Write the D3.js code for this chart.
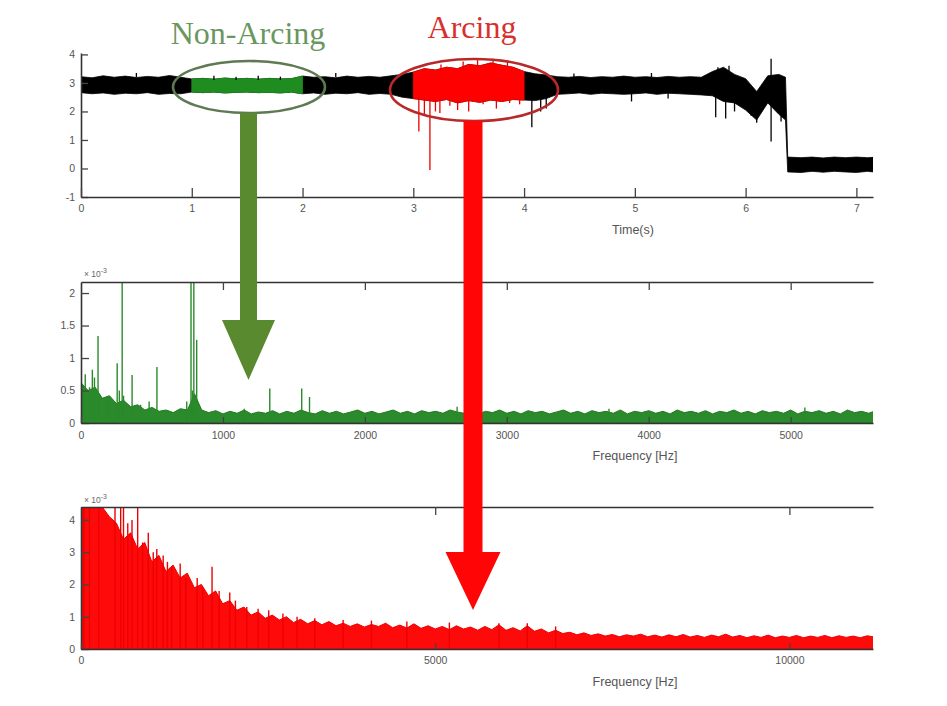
<!DOCTYPE html>
<html><head><meta charset="utf-8">
<script src="https://cdn.jsdelivr.net/npm/d3@7"></script>
<style>body{margin:0;background:#fff}svg{display:block}</style>
</head><body><svg id="c" width="947" height="706"></svg>
<script>
// ---------- Top panel: voltage vs time ----------
const timeTicks = [0,1,2,3,4,5,6,7];
const voltTicks = [-1,0,1,2,3,4];
const sigTime = [0,0.1,0.2,0.3,0.4,0.5,0.6,0.7,0.8,0.9,
  1.0,1.1,1.2,1.3,1.4,1.5,1.6,1.7,1.8,1.9,
  2.0,2.1,2.2,2.3,2.4,2.5,2.6,2.7,2.8,2.9,
  3.0,3.1,3.2,3.3,3.4,3.5,3.6,3.7,3.8,3.9,
  4.0,4.1,4.2,4.3,4.4,4.5,4.6,4.7,4.8,4.9,
  5.0,5.1,5.2,5.3,5.4,5.5,5.6,5.7,5.8,5.9,
  6.0,6.1,6.2,6.3,6.36,6.38,6.5,6.6,6.7,6.8,6.9,7.0,7.1,7.15];
const sigHi = [3.22,3.18,3.25,3.2,3.24,3.19,3.23,3.2,3.26,3.2,
  3.14,3.16,3.13,3.17,3.14,3.16,3.13,3.16,3.14,3.15,
  3.24,3.2,3.22,3.18,3.24,3.2,3.23,3.2,3.25,3.3,
  3.38,3.5,3.45,3.55,3.5,3.65,3.6,3.7,3.62,3.55,
  3.4,3.32,3.28,3.22,3.2,3.23,3.19,3.22,3.2,3.24,
  3.2,3.22,3.19,3.23,3.2,3.22,3.2,3.4,3.55,3.3,
  3.15,2.7,3.25,3.3,3.2,0.4,0.38,0.4,0.37,0.4,0.38,0.4,0.38,0.39];
const sigLo = [2.66,2.62,2.65,2.6,2.64,2.62,2.66,2.6,2.63,2.62,
  2.68,2.66,2.68,2.65,2.67,2.68,2.66,2.67,2.65,2.68,
  2.62,2.65,2.6,2.64,2.62,2.66,2.6,2.63,2.6,2.5,
  2.45,2.4,2.35,2.42,2.3,2.38,2.32,2.4,2.35,2.42,
  2.4,2.38,2.45,2.6,2.62,2.65,2.6,2.64,2.62,2.6,
  2.62,2.65,2.6,2.64,2.62,2.6,2.58,2.55,2.35,2.3,
  2.05,1.7,2.3,1.9,1.7,-0.12,-0.14,-0.1,-0.13,-0.1,-0.12,-0.14,-0.1,-0.12];
const greenRange = [1.0, 2.0];
const redRange = [3.0, 4.0];
// spikes: [time, low value, high value]
const blackSpikes = [[0.5,3.2,3.35],[1.2,3.1,3.25],[1.4,3.1,3.22],[1.6,3.1,3.25],[1.8,3.1,3.22],
  [2.3,3.2,3.35],[4.07,1.45,2.5],[4.15,2.0,2.5],[4.2,2.1,2.6],[4.45,3.2,3.33],[4.97,2.35,2.7],
  [5.15,3.2,3.35],[5.3,2.45,2.7],[5.73,1.8,2.6],[5.75,3.3,3.55],[5.82,1.75,2.5],[5.85,3.4,3.6],
  [5.9,2.0,2.4],[6.05,1.85,2.2],[6.1,1.6,1.8],[6.23,0.95,3.85],[6.32,1.65,2.0]];
const redSpikes = [[3.05,1.3,2.5],[3.1,1.9,2.5],[3.15,-0.05,2.4],[3.2,2.0,2.4],[3.24,1.95,2.4],
  [3.33,2.2,2.4],[3.4,2.05,2.4],[3.5,2.0,2.4],[3.63,2.25,2.4],[3.75,2.1,2.4],[3.87,2.3,2.4],
  [3.96,2.25,2.4],[3.25,3.4,3.65],[3.45,3.5,3.75],[3.58,3.55,3.8],[3.72,3.6,3.85],[3.85,3.55,3.75]];

// ---------- Middle panel: non-arcing spectrum (x 10^-3) ----------
const gFreqTicks = [0,1000,2000,3000,4000,5000];
const gAmpTicks = [0,0.5,1,1.5,2];
const gStep = 50;
const gFloor = [0.62,0.5,0.55,0.38,0.42,0.3,0.35,0.25,0.28,0.2,0.24,0.18,0.2,0.16,0.22,0.2,0.45,0.2,0.16,0.19,
  0.14,0.18,0.15,0.2,0.14,0.17,0.15,0.19,0.14,0.18,0.15,0.2,0.16,0.14,0.19,0.15,0.18,0.14,0.17,0.2,
  0.15,0.18,0.14,0.17,0.2,0.15,0.18,0.14,0.19,0.16,0.18,0.15,0.2,0.17,0.15,0.19,0.14,0.18,0.16,0.2,
  0.15,0.18,0.14,0.19,0.16,0.18,0.14,0.17,0.2,0.15,0.18,0.14,0.19,0.16,0.18,0.15,0.2,0.14,0.18,0.16,
  0.19,0.15,0.18,0.14,0.2,0.16,0.18,0.15,0.19,0.14,0.18,0.16,0.2,0.15,0.18,0.14,0.19,0.16,0.18,0.15,
  0.2,0.14,0.18,0.16,0.19,0.15,0.18,0.14,0.2,0.16,0.18,0.15,0.19];
const gPeaks = [[30,0.75],[60,0.55],[80,0.82],[95,0.7],[120,1.34],[180,0.35],[200,0.4],[255,0.92],
  [270,0.5],[290,2.2],[300,0.42],[360,0.74],[420,0.28],[480,0.33],[535,0.86],[745,0.33],
  [775,2.2],[785,0.5],[795,2.2],[815,1.28],[1150,0.22],[1330,0.53],[1555,0.53],[1610,0.4],
  [2650,0.25],[3720,0.22],[5100,0.24]];

// ---------- Bottom panel: arcing spectrum (x 10^-3) ----------
const rFreqTicks = [0,5000,10000];
const rAmpTicks = [0,1,2,3,4];
const rStep = 100;
const rFloor = [4.4,4.4,4.4,4.4,4.1,3.9,3.4,3.6,3.1,3.3,2.7,2.9,2.4,2.6,2.2,2.35,1.9,2.0,1.65,1.8,
  1.4,1.5,1.2,1.3,1.05,1.15,0.95,1.05,0.9,1.0,0.82,0.92,0.78,0.88,0.75,0.85,0.72,0.8,0.7,0.78,
  0.68,0.76,0.7,0.8,0.66,0.74,0.65,0.78,0.64,0.72,0.62,0.7,0.6,0.72,0.62,0.68,0.58,0.7,0.6,0.75,
  0.58,0.66,0.56,0.72,0.55,0.62,0.5,0.58,0.48,0.52,0.44,0.5,0.42,0.47,0.4,0.45,0.38,0.44,0.4,0.46,
  0.38,0.43,0.37,0.44,0.38,0.45,0.37,0.42,0.36,0.43,0.38,0.46,0.37,0.42,0.35,0.41,0.36,0.43,0.35,0.4,
  0.36,0.42,0.35,0.4,0.36,0.42,0.35,0.41,0.36,0.4,0.35,0.41,0.37];
const rPeaks = [[40,4.4],[120,4.4],[250,4.4],[480,4.4],[560,4.4],[600,4.4],[660,3.9],[720,4.0],
  [800,4.4],[870,3.3],[950,3.6],[1020,3.0],[1070,3.1],[1160,2.9],[1220,2.7],[1280,2.55],[1400,2.65],
  [1480,2.2],[1640,2.2],[1720,1.9],[1850,2.55],[1950,1.8],[2100,1.75],[2180,1.5],[2340,1.3],
  [2500,1.25],[2650,1.2],[2850,1.1],[3050,1.0],[3300,0.95],[3700,0.9],[4100,0.88],[4600,0.85],
  [5200,0.82],[5900,0.8],[6300,0.8],[6700,0.7]];

// ---------- drawing ----------
const svg = d3.select("#c");
svg.append("rect").attr("width",947).attr("height",706).attr("fill","#fff");
const defs = svg.append("defs");
function clip(id,x0,y0,x1,y1){defs.append("clipPath").attr("id",id).append("rect")
  .attr("x",x0).attr("y",y0).attr("width",x1-x0).attr("height",y1-y0);}
const L = 81, R = 873;
const tickFont = "'Liberation Sans', Arial, sans-serif";
const plain = d => String(d);

function styleAxis(g){
  g.selectAll(".domain").attr("stroke","#333").attr("stroke-width",1.6);
  g.selectAll(".tick line").attr("stroke","#444").attr("stroke-width",1.3);
  g.selectAll(".tick text").attr("fill","#555").style("font-family",tickFont).style("font-size","10.5px");
}

// Top panel
const xT = d3.scaleLinear().domain([0,7.15]).range([L,R]);
const yT = d3.scaleLinear().domain([-1,4.05]).range([197,53]);
clip("cT",L,30,R,197);
const gT = svg.append("g").attr("clip-path","url(#cT)");
const pts = sigTime.map((t,i)=>({t,lo:sigLo[i],hi:sigHi[i]}));
const areaT = d3.area().x(d=>xT(d.t)).y0(d=>yT(d.lo)).y1(d=>yT(d.hi));
function band(data,col){gT.append("path").datum(data).attr("d",areaT).attr("fill",col)
  .attr("stroke",col).attr("stroke-width",0.8).attr("stroke-linejoin","round");}
band(pts,"#000");
band(pts.filter(d=>d.t>=greenRange[0]-1e-9&&d.t<=greenRange[1]+1e-9),"#1f8c1f");
band(pts.filter(d=>d.t>=redRange[0]-1e-9&&d.t<=redRange[1]+1e-9),"#ff0000");
function spikes(arr,col){gT.selectAll(null).data(arr).enter().append("line")
  .attr("x1",d=>xT(d[0])).attr("x2",d=>xT(d[0])).attr("y1",d=>yT(d[1])).attr("y2",d=>yT(d[2]))
  .attr("stroke",col).attr("stroke-width",1.3);}
spikes(blackSpikes,"#000");
spikes(redSpikes,"#e80000");

const axTL = svg.append("g").attr("transform",`translate(${L},0)`)
  .call(d3.axisLeft(yT).tickValues(voltTicks).tickFormat(plain).tickSize(-7).tickSizeOuter(0).tickPadding(6));
styleAxis(axTL);
const axTB = svg.append("g").attr("transform","translate(0,197)")
  .call(d3.axisBottom(xT).tickValues(timeTicks).tickFormat(plain).tickSize(-9).tickSizeOuter(0).tickPadding(8));
styleAxis(axTB);
svg.append("text").attr("x",633).attr("y",234).attr("text-anchor","middle")
  .style("font-family",tickFont).style("font-size","12.5px").attr("fill","#555").text("Time(s)");

// Middle panel
const xG = d3.scaleLinear().domain([0,5580]).range([L,R]);
const yG = d3.scaleLinear().domain([0,2.17]).range([423,282]);
clip("cG",L,282,R,423);
const gG = svg.append("g").attr("clip-path","url(#cG)");
gG.append("path").datum(gFloor)
  .attr("d",d3.area().x((d,i)=>xG(i*gStep)).y0(yG(0)).y1(d=>yG(d)))
  .attr("fill","#2b8a2b").attr("stroke","#1f7a1f").attr("stroke-width",1);
gG.selectAll(null).data(gPeaks).enter().append("line")
  .attr("x1",d=>xG(d[0])).attr("x2",d=>xG(d[0])).attr("y1",yG(0)).attr("y2",d=>yG(d[1]))
  .attr("stroke","#2a8a2a").attr("stroke-width",1.4);
const axGL = svg.append("g").attr("transform",`translate(${L},0)`)
  .call(d3.axisLeft(yG).tickValues(gAmpTicks).tickFormat(plain).tickSize(-8).tickSizeOuter(0).tickPadding(6));
styleAxis(axGL);
const axGT = svg.append("g").attr("transform","translate(0,282)")
  .call(d3.axisTop(xG).tickValues(gFreqTicks.slice(1)).tickSize(-8).tickSizeOuter(0).tickFormat(""));
styleAxis(axGT);
const axGB = svg.append("g").attr("transform","translate(0,423)")
  .call(d3.axisBottom(xG).tickValues(gFreqTicks).tickFormat(plain).tickSize(-6).tickSizeOuter(0).tickPadding(9));
styleAxis(axGB);
svg.append("text").attr("x",635).attr("y",460).attr("text-anchor","middle")
  .style("font-family",tickFont).style("font-size","12.5px").attr("fill","#555").text("Frequency [Hz]");
function expo(x,y){const t=svg.append("text").attr("x",x).attr("y",y)
  .style("font-family",tickFont).style("font-size","8.5px").attr("fill","#666");
  t.append("tspan").text("× 10");
  t.append("tspan").attr("dy",-4).style("font-size","7px").text("-3");}
expo(84,277);

// Bottom panel
const xR = d3.scaleLinear().domain([0,11180]).range([L,R]);
const yR = d3.scaleLinear().domain([0,4.4]).range([649,507]);
clip("cR",L,507,R,649);
const gR = svg.append("g").attr("clip-path","url(#cR)");
gR.append("path").datum(rFloor)
  .attr("d",d3.area().x((d,i)=>xR(i*rStep)).y0(yR(0)).y1(d=>yR(d)))
  .attr("fill","#ff0a0a").attr("stroke","#f00000").attr("stroke-width",1);
gR.selectAll(null).data(rPeaks).enter().append("line")
  .attr("x1",d=>xR(d[0])).attr("x2",d=>xR(d[0])).attr("y1",yR(0)).attr("y2",d=>yR(d[1]))
  .attr("stroke","#ee0000").attr("stroke-width",1.4);
const axRL = svg.append("g").attr("transform",`translate(${L},0)`)
  .call(d3.axisLeft(yR).tickValues(rAmpTicks).tickFormat(plain).tickSize(-8).tickSizeOuter(0).tickPadding(6));
styleAxis(axRL);
const axRT = svg.append("g").attr("transform","translate(0,507)")
  .call(d3.axisTop(xR).tickValues(rFreqTicks.slice(1)).tickSize(-8).tickSizeOuter(0).tickFormat(""));
styleAxis(axRT);
const axRB = svg.append("g").attr("transform","translate(0,649)")
  .call(d3.axisBottom(xR).tickValues(rFreqTicks).tickFormat(plain).tickSize(-6).tickSizeOuter(0).tickPadding(8));
styleAxis(axRB);
svg.append("text").attr("x",635).attr("y",686).attr("text-anchor","middle")
  .style("font-family",tickFont).style("font-size","12.5px").attr("fill","#555").text("Frequency [Hz]");
expo(84,503);

// Annotations
svg.append("ellipse").attr("cx",249).attr("cy",87).attr("rx",76).attr("ry",26)
  .attr("fill","none").attr("stroke","#5e7a52").attr("stroke-width",2.6);
svg.append("ellipse").attr("cx",474).attr("cy",90).attr("rx",84).attr("ry",31)
  .attr("fill","none").attr("stroke","#b82a2a").attr("stroke-width",2.6);
function arrow(cx,y0,yHead,yTip,shaftW,headW,col){
  const p = d3.path();
  p.moveTo(cx-shaftW/2,y0); p.lineTo(cx+shaftW/2,y0); p.lineTo(cx+shaftW/2,yHead);
  p.lineTo(cx+headW/2,yHead); p.lineTo(cx,yTip); p.lineTo(cx-headW/2,yHead);
  p.lineTo(cx-shaftW/2,yHead); p.closePath();
  svg.append("path").attr("d",p.toString()).attr("fill",col);
}
arrow(248.5,113,320,380,17,53,"#5a8a30");
arrow(473,121,552,610,19,55,"#ff0505");

const serif = "'Liberation Serif','Times New Roman',serif";
svg.append("text").attr("x",248).attr("y",44).attr("text-anchor","middle")
  .style("font-family",serif).style("font-size","32px").attr("fill","#6a9660").text("Non-Arcing");
svg.append("text").attr("x",472).attr("y",38).attr("text-anchor","middle")
  .style("font-family",serif).style("font-size","32px").attr("fill","#d8302c").text("Arcing");
</script>
</body></html>
